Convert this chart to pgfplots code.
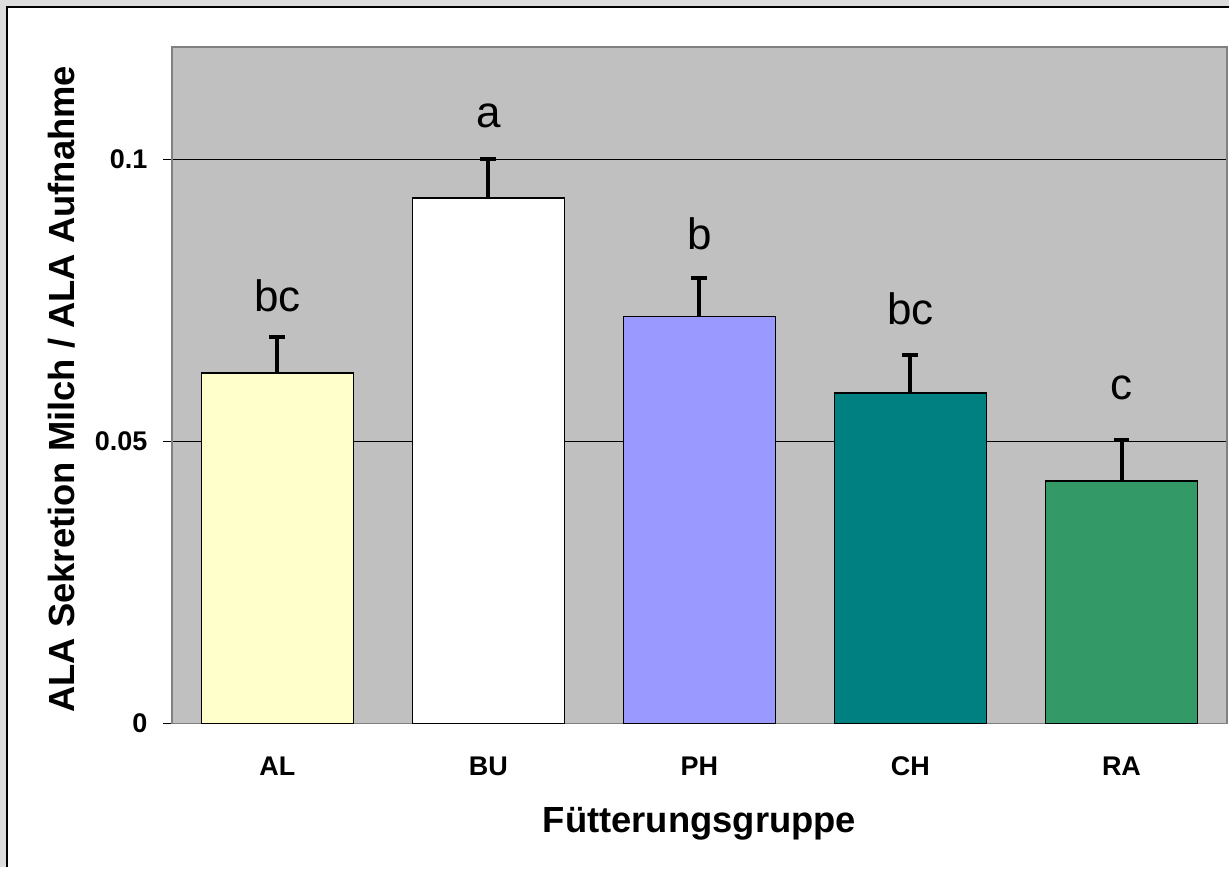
\documentclass[border=0pt]{standalone}
\usepackage{fontspec}
\setmainfont{Liberation Sans}
\usepackage{pgfplots}
\pgfplotsset{compat=1.18}
\definecolor{framegray}{HTML}{DDDDDD}
\definecolor{plotbg}{HTML}{C0C0C0}
\definecolor{axgray}{HTML}{808080}
\definecolor{cAL}{HTML}{FFFFCC}
\definecolor{cBU}{HTML}{FFFFFF}
\definecolor{cPH}{HTML}{9999FF}
\definecolor{cCH}{HTML}{008080}
\definecolor{cRA}{HTML}{339966}
\pgfplotsset{
  mybar/.style={ybar, bar width=0.72, bar shift=0pt, fill=#1, draw=black, line width=0.75pt,
    error bars/.cd, y dir=plus, y explicit, error mark=-,
    error bar style={line width=2pt, black},
    error mark options={rotate=90, line width=2pt, mark size=4pt, black}},
}
\begin{document}
\begin{tikzpicture}[x=1pt,y=1pt]
\fill[framegray] (0,0) rectangle (615,434);
\fill[white] (3.75,0) rectangle (615,430.25);
\draw[black, line width=1pt] (3.75,0) -- (3.75,430.25) -- (615,430.25);
\begin{axis}[
  at={(86pt,72pt)}, anchor=south west,
  scale only axis, width=528pt, height=338.5pt,
  xmin=-0.5, xmax=4.5, ymin=0, ymax=0.12,
  axis background/.style={fill=plotbg},
  axis line style={axgray, line width=0.75pt},
  xtick={0,1,2,3,4},
  xticklabels={AL,BU,PH,CH,RA},
  major x tick style={draw=none},
  extra x ticks={-0.5,0.5,1.5,2.5,3.5,4.5},
  extra x tick labels={},
  extra x tick style={tick align=outside, major tick length=4pt, tick style={axgray, line width=0.6pt}, xmajorgrids=false},
  ytick={0,0.05,0.1},
  yticklabels={0,0.05,0.1},
  scaled y ticks=false,
  ymajorgrids,
  grid style={black, line width=0.5pt},
  ytick style={black, line width=0.6pt},
  tick align=outside,
  major tick length=4.5pt,
  xtick pos=bottom, ytick pos=left,
  tick label style={font=\bfseries\fontsize{13.5}{16}\selectfont},
  yticklabel style={anchor=east, inner sep=0pt, xshift=-7.5pt},
  xticklabel style={anchor=base, inner sep=0pt, yshift=-21.8pt},
  xlabel={Fütterungsgruppe},
  ylabel={ALA Sekretion Milch / ALA Aufnahme},
  label style={font=\bfseries\fontsize{18.2}{21}\selectfont},
  xlabel style={at={(axis description cs:0.5,-0.1606)}, anchor=base},
  ylabel style={at={(axis description cs:-0.1042,0.494)}, anchor=center, rotate=0},
]
\addplot[mybar=cAL] coordinates {(0,0.0622) +- (0,0.0064)};
\addplot[mybar=cBU] coordinates {(1,0.0932) +- (0,0.0070)};
\addplot[mybar=cPH] coordinates {(2,0.0722) +- (0,0.0068)};
\addplot[mybar=cCH] coordinates {(3,0.0586) +- (0,0.0068)};
\addplot[mybar=cRA] coordinates {(4,0.0430) +- (0,0.0073)};
\begin{scope}[every node/.style={anchor=base, font=\fontsize{22}{26}\selectfont}]
\node at (axis cs:0,0.0731) {bc};
\node at (axis cs:1,0.1058) {a};
\node at (axis cs:2,0.0841) {b};
\node at (axis cs:3,0.0708) {bc};
\node at (axis cs:4,0.0574) {c};
\end{scope}
\end{axis}
\path (0,0) rectangle (615,434);
\end{tikzpicture}
\end{document}
